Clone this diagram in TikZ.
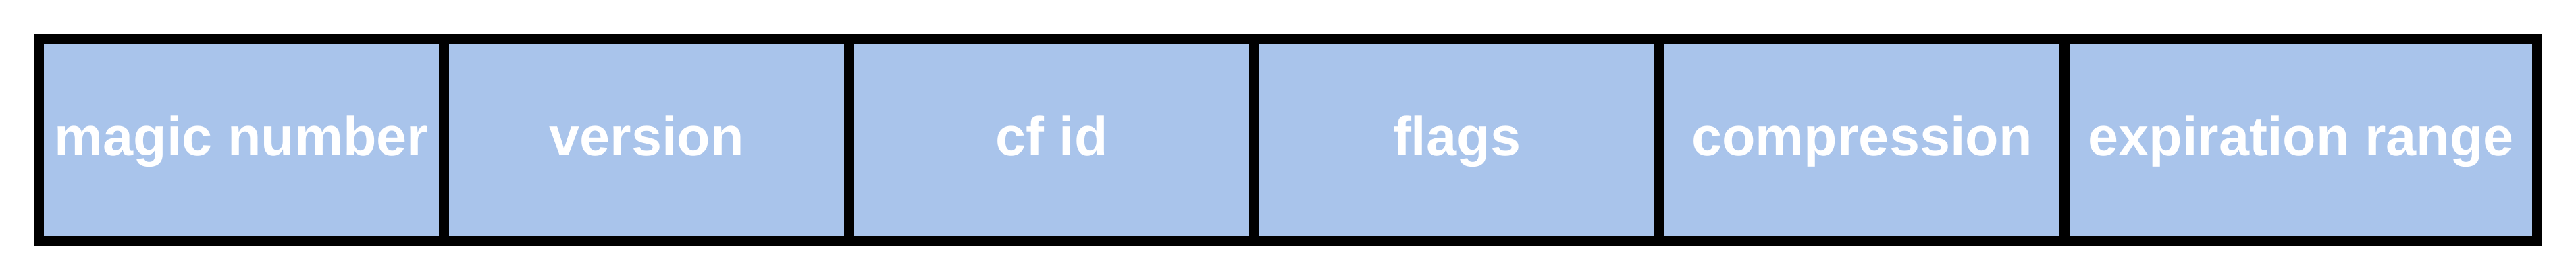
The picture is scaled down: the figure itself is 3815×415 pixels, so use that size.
\documentclass[tikz,border=0pt]{standalone}
\usepackage{fontspec}
\setmainfont{Liberation Sans}
\definecolor{cellblue}{HTML}{A9C4EB}
\begin{document}
\begin{tikzpicture}[x=0.5pt,y=-0.5pt,
  cell/.style={draw=black, fill=cellblue, line width=7.5pt, inner sep=0pt,
    minimum height=150pt, text height=23.5pt, text depth=0pt,
    text=white, font=\fontsize{40.5}{48}\selectfont\bfseries}]
\useasboundingbox[fill=white] (0,0) rectangle (3815,415);
\node[cell, minimum width=300pt] (magic) at (357.5,207.5) {magic number};
\node[cell, minimum width=300pt] (version) at (957.5,207.5) {version};
\node[cell, minimum width=300pt] (cfid) at (1557.5,207.5) {cf id};
\node[cell, minimum width=300pt] (flags) at (2157.5,207.5) {flags};
\node[cell, minimum width=300pt] (compression) at (2757.5,207.5) {compression};
\node[cell, minimum width=350pt] (expiration) at (3407.5,207.5) {expiration range};
\end{tikzpicture}
\end{document}
